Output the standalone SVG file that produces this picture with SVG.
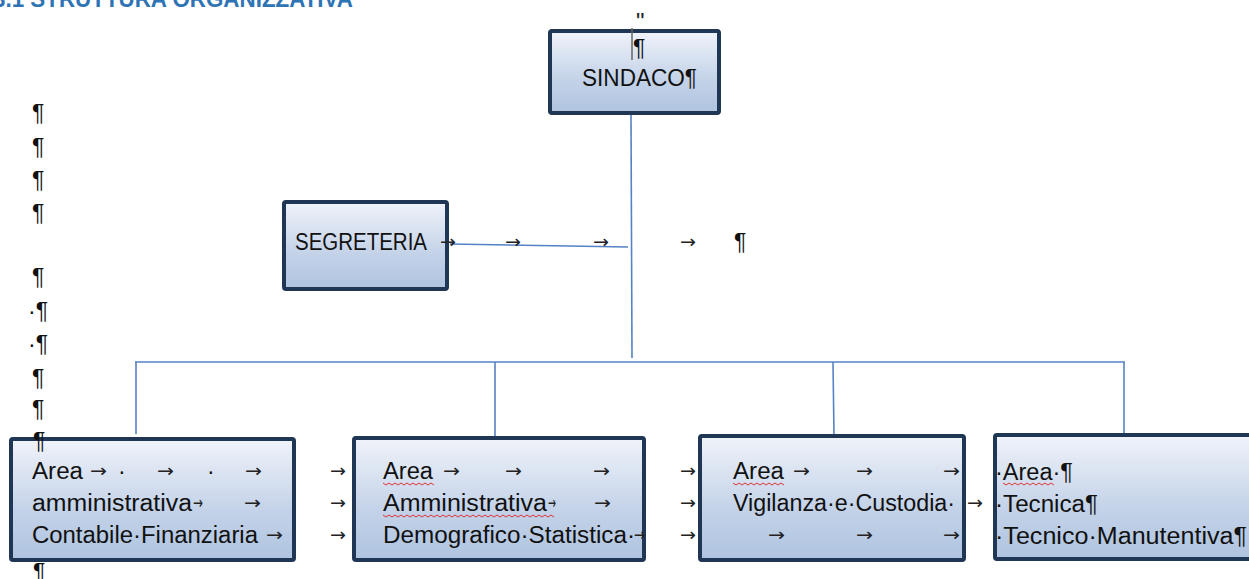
<svg xmlns="http://www.w3.org/2000/svg" width="1249" height="579" viewBox="0 0 1249 579">
<defs>
<linearGradient id="g" x1="0" y1="0" x2="0" y2="1">
<stop offset="0" stop-color="#F0F3FA"/>
<stop offset="0.6" stop-color="#C3D2E8"/>
<stop offset="1" stop-color="#AFC4E0"/>
</linearGradient>
</defs>
<style>
.box{fill:url(#g);stroke:#1F3655;stroke-width:4}
.t{font-family:"Liberation Sans",Arial,sans-serif;font-size:23px;fill:#111}
.a{font-family:"DejaVu Sans","Liberation Sans",sans-serif;font-size:18px;fill:#222}
.c{stroke:#5582C4;stroke-width:1.6;fill:none}
.sq{fill:none;stroke:#E02020;stroke-width:0.9}
</style>

<text x="353" y="7" text-anchor="end" font-family="'Liberation Sans',Arial,sans-serif" font-size="23" font-weight="bold" fill="#2E74B5" textLength="360" lengthAdjust="spacingAndGlyphs">3.1 STRUTTURA ORGANIZZATIVA</text>

<g id="connectors">
<line class="c" x1="631" y1="114" x2="632" y2="358"/>
<line class="c" x1="450" y1="244" x2="628" y2="247"/>
<line class="c" x1="135" y1="362" x2="1125" y2="362"/>
<line class="c" x1="136" y1="362" x2="136" y2="434"/>
<line class="c" x1="495" y1="362" x2="495" y2="436"/>
<line class="c" x1="833" y1="362" x2="834" y2="436"/>
<line class="c" x1="1124" y1="362" x2="1124" y2="436"/>
</g>

<g id="margin-marks">
<text class="t" x="32" y="121">¶</text>
<text class="t" x="32" y="155">¶</text>
<text class="t" x="32" y="188">¶</text>
<text class="t" x="32" y="221">¶</text>
<text class="t" x="32" y="285">¶</text>
<text class="t" x="28" y="319">·¶</text>
<text class="t" x="28" y="352">·¶</text>
<text class="t" x="32" y="386">¶</text>
<text class="t" x="32" y="417">¶</text>
</g>

<g id="sindaco">
<rect class="box" x="550" y="31" width="169" height="82" rx="2"/>
<text x="636" y="30" font-family="'Liberation Sans',sans-serif" font-size="24" fill="#222">"</text>
<line x1="632" y1="28" x2="632" y2="60" stroke="#666" stroke-width="1.5"/>
<text class="t" x="633" y="56">¶</text>
<text class="t" x="582" y="86" textLength="115" lengthAdjust="spacingAndGlyphs">SINDACO¶</text>
</g>

<g id="segreteria">
<rect class="box" x="284" y="202" width="163" height="87" rx="2"/>
<text class="t" x="295" y="250" textLength="132" lengthAdjust="spacingAndGlyphs">SEGRETERIA</text>
<text class="a" x="440" y="248" textLength="16" lengthAdjust="spacingAndGlyphs">→</text>
<text class="a" x="505" y="248" textLength="16" lengthAdjust="spacingAndGlyphs">→</text>
<text class="a" x="593" y="248" textLength="16" lengthAdjust="spacingAndGlyphs">→</text>
<text class="a" x="680" y="248" textLength="16" lengthAdjust="spacingAndGlyphs">→</text>
<text class="t" x="734" y="250">¶</text>
</g>

<g id="area-amministrativa-contabile">
<rect class="box" x="11" y="439" width="283" height="121" rx="2"/>
<text class="t" x="32" y="479" textLength="51" lengthAdjust="spacingAndGlyphs">Area</text>
<text class="a" x="90" y="477" textLength="17" lengthAdjust="spacingAndGlyphs">→</text>
<text class="t" x="118" y="479">·</text>
<text class="a" x="157" y="477" textLength="17" lengthAdjust="spacingAndGlyphs">→</text>
<text class="t" x="207" y="479">·</text>
<text class="a" x="245" y="477" textLength="17" lengthAdjust="spacingAndGlyphs">→</text>
<text class="t" x="32" y="511" textLength="160" lengthAdjust="spacingAndGlyphs">amministrativa</text>
<text class="a" x="193" y="509" font-size="13" textLength="10" lengthAdjust="spacingAndGlyphs">→</text>
<text class="a" x="244" y="509" textLength="17" lengthAdjust="spacingAndGlyphs">→</text>
<text class="t" x="32" y="543" textLength="226" lengthAdjust="spacingAndGlyphs">Contabile·Finanziaria</text>
<text class="a" x="266" y="541" textLength="17" lengthAdjust="spacingAndGlyphs">→</text>
</g>

<g id="arrows-gap1">
<text class="a" x="330" y="477" textLength="16" lengthAdjust="spacingAndGlyphs">→</text>
<text class="a" x="330" y="509" textLength="16" lengthAdjust="spacingAndGlyphs">→</text>
<text class="a" x="330" y="541" textLength="16" lengthAdjust="spacingAndGlyphs">→</text>
</g>

<g id="area-amministrativa-demografico">
<rect class="box" x="354" y="438" width="290" height="122" rx="2"/>
<text class="t" x="383" y="479" textLength="50" lengthAdjust="spacingAndGlyphs">Area</text>
<path class="sq" d="M383,483 l3,2 l3,-2 l3,2 l3,-2 l3,2 l3,-2 l3,2 l3,-2 l3,2 l3,-2 l3,2 l3,-2 l3,2 l3,-2 l3,2 l3,-2 l3,2"/>
<text class="a" x="443" y="477" textLength="17" lengthAdjust="spacingAndGlyphs">→</text>
<text class="a" x="505" y="477" textLength="17" lengthAdjust="spacingAndGlyphs">→</text>
<text class="a" x="593" y="477" textLength="17" lengthAdjust="spacingAndGlyphs">→</text>
<text class="t" x="383" y="511" textLength="164" lengthAdjust="spacingAndGlyphs">Amministrativa</text>
<path class="sq" d="M383,515 l3,2 l3,-2 l3,2 l3,-2 l3,2 l3,-2 l3,2 l3,-2 l3,2 l3,-2 l3,2 l3,-2 l3,2 l3,-2 l3,2 l3,-2 l3,2 l3,-2 l3,2 l3,-2 l3,2 l3,-2 l3,2 l3,-2 l3,2 l3,-2 l3,2 l3,-2 l3,2 l3,-2 l3,2 l3,-2 l3,2 l3,-2 l3,2 l3,-2 l3,2 l3,-2 l3,2 l3,-2 l3,2 l3,-2 l3,2 l3,-2 l3,2 l3,-2 l3,2 l3,-2 l3,2 l3,-2 l3,2 l3,-2 l3,2 l3,-2 l3,2 l3,-2 l3,2"/>
<text class="a" x="548" y="509" font-size="13" textLength="8" lengthAdjust="spacingAndGlyphs">→</text>
<text class="a" x="594" y="509" textLength="17" lengthAdjust="spacingAndGlyphs">→</text>
<text class="t" x="383" y="543" textLength="252" lengthAdjust="spacingAndGlyphs">Demografico·Statistica·</text>
<text class="a" x="634" y="541" textLength="11" lengthAdjust="spacingAndGlyphs">→</text>
</g>

<g id="arrows-gap2">
<text class="a" x="680" y="477" textLength="16" lengthAdjust="spacingAndGlyphs">→</text>
<text class="a" x="680" y="509" textLength="16" lengthAdjust="spacingAndGlyphs">→</text>
<text class="a" x="680" y="541" textLength="16" lengthAdjust="spacingAndGlyphs">→</text>
</g>

<g id="area-vigilanza">
<rect class="box" x="700" y="436" width="264" height="124" rx="2"/>
<text class="t" x="733" y="479" textLength="51" lengthAdjust="spacingAndGlyphs">Area</text>
<path class="sq" d="M733,483 l3,2 l3,-2 l3,2 l3,-2 l3,2 l3,-2 l3,2 l3,-2 l3,2 l3,-2 l3,2 l3,-2 l3,2 l3,-2 l3,2 l3,-2 l3,2"/>
<text class="a" x="793" y="477" textLength="17" lengthAdjust="spacingAndGlyphs">→</text>
<text class="a" x="856" y="477" textLength="17" lengthAdjust="spacingAndGlyphs">→</text>
<text class="a" x="943" y="477" textLength="17" lengthAdjust="spacingAndGlyphs">→</text>
<text class="t" x="733" y="511" textLength="222" lengthAdjust="spacingAndGlyphs">Vigilanza·e·Custodia·</text>
<text class="a" x="967" y="509" textLength="16" lengthAdjust="spacingAndGlyphs">→</text>
<text class="a" x="768" y="541" textLength="17" lengthAdjust="spacingAndGlyphs">→</text>
<text class="a" x="856" y="541" textLength="17" lengthAdjust="spacingAndGlyphs">→</text>
<text class="a" x="943" y="541" textLength="17" lengthAdjust="spacingAndGlyphs">→</text>
</g>

<g id="area-tecnica">
<rect class="box" x="995" y="435" width="260" height="124" rx="2"/>
<text class="t" x="995" y="480" textLength="78" lengthAdjust="spacingAndGlyphs">·Area·¶</text>
<path class="sq" d="M1003,483 l3,2 l3,-2 l3,2 l3,-2 l3,2 l3,-2 l3,2 l3,-2 l3,2 l3,-2 l3,2 l3,-2 l3,2 l3,-2 l3,2 l3,-2 l3,2"/>
<text class="t" x="995" y="512" textLength="103" lengthAdjust="spacingAndGlyphs">·Tecnica¶</text>
<text class="t" x="995" y="544" textLength="252" lengthAdjust="spacingAndGlyphs">·Tecnico·Manutentiva¶</text>
</g>

<g id="margin-marks-front">
<text class="t" x="33" y="449">¶</text>
<text class="t" x="33" y="580">¶</text>
</g>
</svg>
